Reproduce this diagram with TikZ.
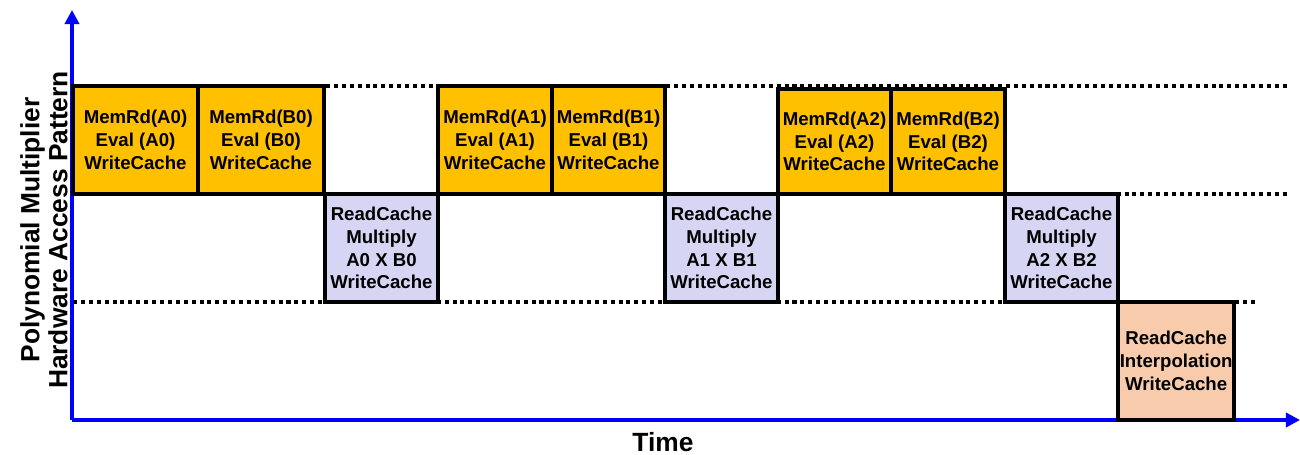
\documentclass[tikz,border=0pt]{standalone}
\usepackage{fontspec}
\setmainfont{Liberation Sans}
\usetikzlibrary{arrows.meta, positioning}
\definecolor{slotgold}{HTML}{FFC000}
\definecolor{slotlilac}{HTML}{D6D6F4}
\definecolor{slotpeach}{HTML}{F8CBAD}

\begin{document}
\begin{tikzpicture}[
  x=0.02cm, y=-0.02cm,
  font=\bfseries\fontsize{10.6}{13}\selectfont,
  slot/.style={rectangle, draw=black, line width=2.2pt, minimum height=2.16cm,
               align=center, inner sep=1pt, outer sep=0pt, anchor=north west},
  guide/.style={line width=2.2pt, dash pattern=on 2.3pt off 2.2pt},
  axis/.style={blue, line width=2pt, -{Triangle[length=8pt, width=8pt]}},
]
  \useasboundingbox (0,0) rectangle (1300,455);

  % lane guides
  \draw[guide] (73,86) -- (1290,86);
  \draw[guide] (73,194) -- (1290,194);
  \draw[guide] (73,302) -- (1255,302);

  % axes
  \coordinate (orig) at (72,420);
  \coordinate (ytop) at (72,10);
  \coordinate (xend) at (1300,420);
  \draw[axis] (orig) -- (ytop);
  \draw[axis] (orig) -- (xend);

  % memory read / evaluation
  \node[slot, fill=slotgold, minimum width=2.5cm] (evA0) at (73,86) {MemRd(A0)\\Eval (A0)\\WriteCache};
  \node[slot, fill=slotgold, minimum width=2.52cm] (evB0) at (198,86) {MemRd(B0)\\Eval (B0)\\WriteCache};
  \node[slot, fill=slotgold, minimum width=2.28cm] (evA1) at (438,86) {MemRd(A1)\\Eval (A1)\\WriteCache};
  \node[slot, fill=slotgold, minimum width=2.26cm] (evB1) at (552,86) {MemRd(B1)\\Eval (B1)\\WriteCache};
  \node[slot, fill=slotgold, minimum width=2.26cm, minimum height=2.1cm] (evA2) at (778,89) {MemRd(A2)\\Eval (A2)\\WriteCache};
  \node[slot, fill=slotgold, minimum width=2.28cm, minimum height=2.1cm] (evB2) at (891,89) {MemRd(B2)\\Eval (B2)\\WriteCache};

  % multiply
  \node[slot, fill=slotlilac, minimum width=2.26cm] (mul0) at (325,194) {ReadCache\\Multiply\\A0 X B0\\WriteCache};
  \node[slot, fill=slotlilac, minimum width=2.26cm] (mul1) at (665,194) {ReadCache\\Multiply\\A1 X B1\\WriteCache};
  \node[slot, fill=slotlilac, minimum width=2.26cm] (mul2) at (1005,194) {ReadCache\\Multiply\\A2 X B2\\WriteCache};

  % interpolation
  \node[slot, fill=slotpeach, minimum width=2.28cm, minimum height=2.36cm] (interp) at (1118,302) {ReadCache\\Interpolation\\WriteCache};

  % axis labels
  \node[rotate=90, align=center, font=\bfseries\fontsize{15}{16}\selectfont] (ylab) at (44,230) {Polynomial Multiplier\\Hardware Access Pattern};
  \node[inner sep=0pt, font=\bfseries\fontsize{15}{16}\selectfont] (xlab) at (663,442) {Time};
\end{tikzpicture}
\end{document}
